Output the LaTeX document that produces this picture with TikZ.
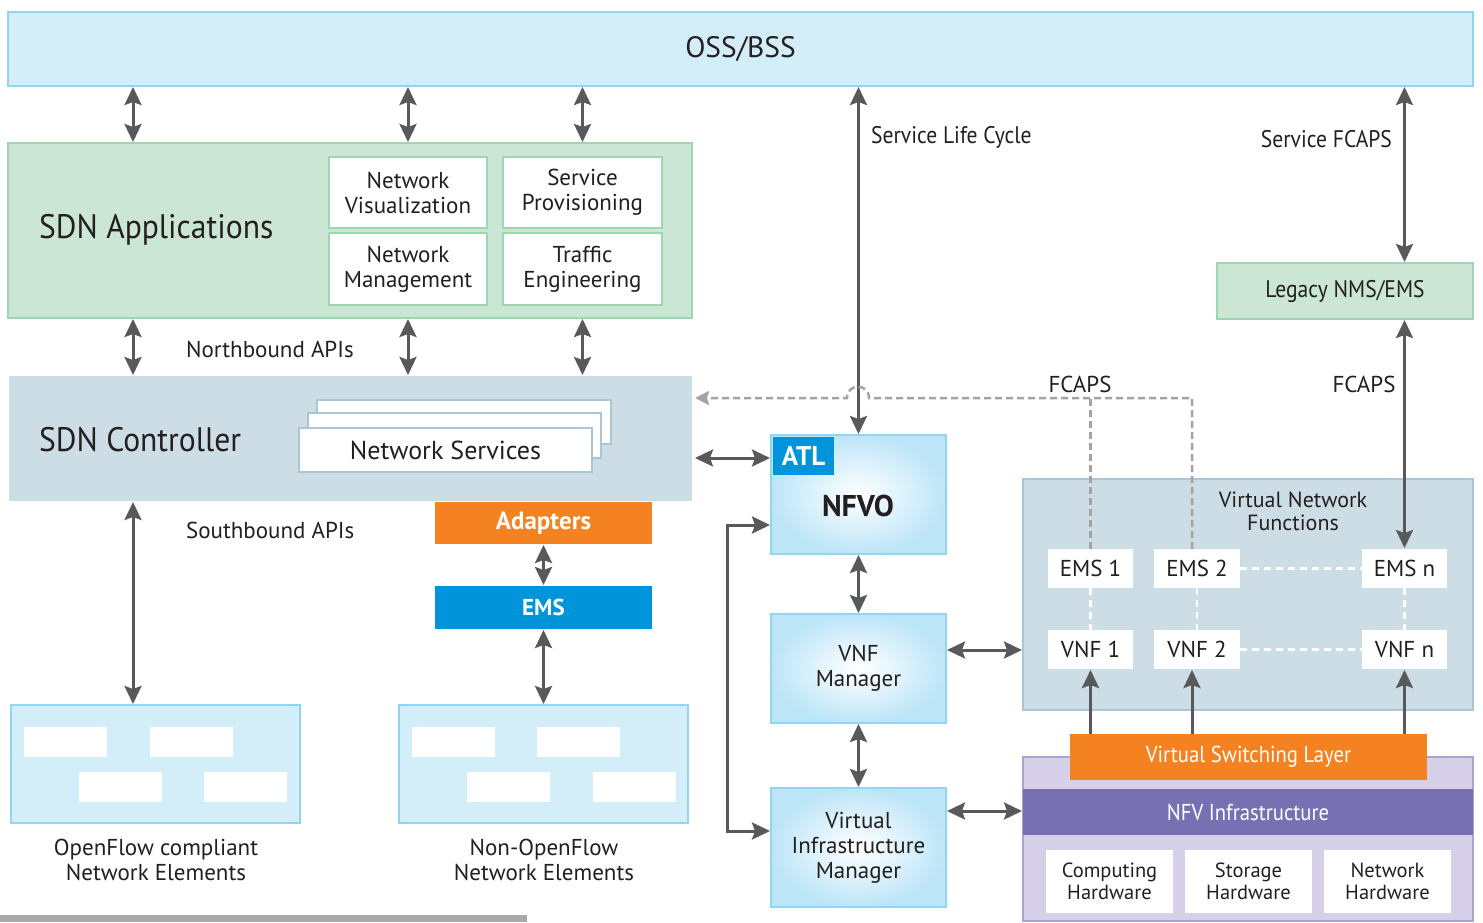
\documentclass[tikz,border=0pt]{standalone}
\usepackage{fontspec}
\setmainfont{PT Sans}
\newfontfamily\narrowfont[FakeStretch=0.9]{PT Sans}
\newfontfamily\bignarrowfont[FakeStretch=0.93]{PT Sans}
\usetikzlibrary{arrows.meta}

\definecolor{ossfill}{HTML}{D4EEF9}
\definecolor{ossline}{HTML}{92D5F2}
\definecolor{appfill}{HTML}{CCE6D5}
\definecolor{appline}{HTML}{9FD6B2}
\definecolor{ctrlfill}{HTML}{CCDDE5}
\definecolor{vnfline}{HTML}{A9C6D6}
\definecolor{adaptorange}{HTML}{F58220}
\definecolor{emsblue}{HTML}{0095DA}
\definecolor{nfvblue}{HTML}{BDE5F8}
\definecolor{lavfill}{HTML}{D6D1E9}
\definecolor{lavline}{HTML}{ABA3D2}
\definecolor{nfvipurple}{HTML}{7770B3}
\definecolor{arrgray}{HTML}{58595B}
\definecolor{dashgray}{HTML}{A3A3A3}
\definecolor{inkblack}{HTML}{231F20}
\definecolor{bargray}{HTML}{A7A9AC}

\begin{document}
\begin{tikzpicture}[x=1pt, y=-1pt, line width=1.5pt, text=inkblack,
  font=\fontsize{23}{25}\selectfont,
  >={Stealth[length=18pt,width=17pt,inset=3pt]},
  box/.style={draw, inner sep=0pt, outer sep=0pt, anchor=north west, align=center},
  nfvbox/.style={box, draw=ossline, inner color=white, outer color=nfvblue},
  wbox/.style={box, draw=none, fill=white},
  arr/.style={draw=arrgray, line width=3pt, <->, shorten <=1pt, shorten >=1pt},
  arrup/.style={draw=arrgray, line width=3pt, ->, shorten >=1pt},
  fcapsdash/.style={draw=dashgray, line width=2.5pt, dash pattern=on 7pt off 4pt},
  whitedash/.style={draw=white, line width=2.5pt, dash pattern=on 7pt off 5pt},
  bigtxt/.style={font=\bignarrowfont\fontsize{34}{38}\selectfont},
  narrowtxt/.style={font=\narrowfont\fontsize{24}{26}\selectfont},
  bandtxt/.style={font=\narrowfont\fontsize{23}{26}\selectfont}]

\useasboundingbox (0,0) rectangle (1483,922);

\node[box, draw=ossline, fill=ossfill, minimum width=1465, minimum height=74,
  font=\fontsize{29.5}{33}\selectfont] (oss) at (8,12) {OSS/BSS};

% SDN side
\node[box, draw=appline, fill=appfill, minimum width=684, minimum height=175] (sdnapp) at (8,143) {};
\node[bigtxt, anchor=west] (sdnapptxt) at (35,230) {SDN Applications};
\node[box, draw=appline, fill=white, minimum width=158, minimum height=71] (netvis) at (329,157) {Network\\Visualization};
\node[box, draw=appline, fill=white, minimum width=159, minimum height=71] (svcprov) at (503,157) {Service\\Provisioning};
\node[box, draw=appline, fill=white, minimum width=158, minimum height=72] (netman) at (329,233) {Network\\Management};
\node[box, draw=appline, fill=white, minimum width=159, minimum height=72] (traffic) at (503,233) {Traffic\\Engineering};

\node[box, draw=none, fill=ctrlfill, minimum width=683, minimum height=125] (ctrl) at (9,376) {};
\node[bigtxt, anchor=west] (ctrltxt) at (35,440) {SDN Controller};
\node[box, draw=vnfline, fill=white, minimum width=294, minimum height=44] (svcback) at (317,400) {};
\node[box, draw=vnfline, fill=white, minimum width=293, minimum height=45] (svcmid) at (308,413) {};
\node[box, draw=vnfline, fill=white, minimum width=293, minimum height=44,
  font=\fontsize{26}{29}\selectfont] (netsvc) at (299,428) {Network Services};

\coordinate (colA) at (133,0);
\draw[arr] (oss.south -| colA) -- (sdnapp.north -| colA);
\draw[arr] (oss.south -| netvis) -- (sdnapp.north -| netvis);
\draw[arr] (oss.south -| svcprov) -- (sdnapp.north -| svcprov);
\draw[arr] (sdnapp.south -| colA) -- (ctrl.north -| colA);
\draw[arr] (sdnapp.south -| netvis) -- (ctrl.north -| netvis);
\draw[arr] (sdnapp.south -| svcprov) -- (ctrl.north -| svcprov);
\node[anchor=west] (nbapi) at (182,349) {Northbound APIs};
\node[anchor=west] (sbapi) at (182,530) {Southbound APIs};

\node[box, draw=none, fill=adaptorange, text=white, minimum width=217, minimum height=42,
  font=\bfseries\fontsize{25}{28}\selectfont] (adapt) at (435,502) {Adapters};
\node[box, draw=none, fill=emsblue, text=white, minimum width=217, minimum height=43,
  font=\bfseries\fontsize{23}{26}\selectfont] (emsbox) at (435,586) {EMS};

\node[box, draw=ossline, fill=ossfill, minimum width=289, minimum height=118] (ofne) at (11,705) {};
\node[box, draw=ossline, fill=ossfill, minimum width=289, minimum height=118] (nonof) at (399,705) {};
\fill[white] (24,727) rectangle (107,757);
\fill[white] (150,727) rectangle (233,757);
\fill[white] (79,772) rectangle (162,802);
\fill[white] (204,772) rectangle (287,802);
\fill[white] (412,727) rectangle (495,757);
\fill[white] (537,727) rectangle (620,757);
\fill[white] (467,772) rectangle (550,802);
\fill[white] (593,772) rectangle (676,802);
\node[align=center] (oftxt) at (156,860) {OpenFlow compliant\\Network Elements};
\node[align=center] (nonoftxt) at (544,860) {Non-OpenFlow\\Network Elements};

\draw[arr] (ctrl.south -| colA) -- (ofne.north -| colA);
\draw[arr] (adapt.south) -- (emsbox.north);
\draw[arr] (emsbox.south) -- (nonof.north);

% NFV side
\node[nfvbox, minimum width=175, minimum height=119] (nfvo) at (771,435) {};
\node[box, draw=none, fill=emsblue, text=white, minimum width=61, minimum height=38,
  font=\bfseries\fontsize{27}{30}\selectfont] (atl) at (773,437) {ATL};
\node[font=\bfseries\fontsize{30}{34}\selectfont] (nfvotxt) at (858,506) {NFVO};
\node[nfvbox, minimum width=175, minimum height=109] (vnfm) at (771,614) {VNF\\Manager};
\node[nfvbox, minimum width=175, minimum height=119] (vim) at (771,788) {Virtual\\Infrastructure\\Manager};

\draw[arr] (oss.south -| nfvo.north) -- (nfvo.north);
\node[narrowtxt, anchor=west] (slctxt) at (867,137) {Service Life Cycle};
\draw[arr] (nfvo.south) -- (vnfm.north);
\draw[arr] (vnfm.south) -- (vim.north);
\draw[arr] ([xshift=2pt]ctrl.east |- 0,458) -- (nfvo.west |- 0,458);
\draw[arr, shorten <=1pt] (nfvo.west |- 0,525) -- (727,525) |- (vim.west |- 0,831);

\node[box, draw=appline, fill=appfill, minimum width=256, minimum height=56,
  narrowtxt] (legacy) at (1217,263) {Legacy NMS/EMS};

\node[box, draw=vnfline, fill=ctrlfill, minimum width=450, minimum height=231] (vnfbox) at (1023,479) {};
\node[align=center, font=\fontsize{22}{23}\selectfont] (vnftxt) at (1293,511) {Virtual Network\\Functions};
\node[wbox, minimum width=85, minimum height=39] (ems1) at (1048,549) {EMS 1};
\node[wbox, minimum width=86, minimum height=39] (ems2) at (1154,549) {EMS 2};
\node[wbox, minimum width=85, minimum height=39] (emsn) at (1362,549) {EMS n};
\node[wbox, minimum width=85, minimum height=39] (vnf1) at (1048,630) {VNF 1};
\node[wbox, minimum width=86, minimum height=39] (vnf2) at (1154,630) {VNF 2};
\node[wbox, minimum width=85, minimum height=39] (vnfn) at (1362,630) {VNF n};
\draw[whitedash] (ems2.east) -- (emsn.west);
\draw[whitedash] (vnf2.east) -- (vnfn.west);
\draw[whitedash] (ems1.south) -- (vnf1.north);
\draw[whitedash] (ems2.south) -- (vnf2.north);
\draw[whitedash] (emsn.south) -- (vnfn.north);

\draw[arr] (oss.south -| emsn) -- (legacy.north -| emsn);
\node[narrowtxt, anchor=east] (sfcaps) at (1396,139) {Service FCAPS};
\draw[arr] (legacy.south -| emsn) -- (emsn.north);
\node (fcaps1) at (1080,384) {FCAPS};
\node (fcaps2) at (1364,384) {FCAPS};

% FCAPS dashed path with hop over the life cycle line
\draw[fcapsdash] (ems1.north) -- (ems1.north |- 0,398);
\draw[fcapsdash, -{Stealth[length=14pt,width=14pt,inset=2pt]}, shorten >=3pt]
  ([xshift=-5pt]ems2.north) -- ([xshift=-5pt]ems2.north |- 0,398) -- (869,398)
  .. controls (869,383) and (847,383) .. (847,398) -- (ctrl.east |- 0,398);

\node[box, draw=lavline, fill=lavfill, minimum width=450, minimum height=164] (nfvi) at (1023,757) {};
\node[box, draw=none, fill=adaptorange, text=white, minimum width=357, minimum height=46,
  bandtxt] (vsl) at (1070,734) {Virtual Switching Layer};
\node[box, draw=none, fill=nfvipurple, text=white, minimum width=450, minimum height=46,
  bandtxt] (nfviband) at (1023,789) {NFV Infrastructure};
\node[wbox, minimum width=127, minimum height=63, font=\fontsize{20.5}{22}\selectfont] (comp) at (1046,850) {Computing\\Hardware};
\node[wbox, minimum width=127, minimum height=63, font=\fontsize{20.5}{22}\selectfont] (stor) at (1185,850) {Storage\\Hardware};
\node[wbox, minimum width=127, minimum height=63, font=\fontsize{20.5}{22}\selectfont] (nethw) at (1324,850) {Network\\Hardware};

\draw[arrup] (vnf1.south |- vsl.north) -- (vnf1.south);
\draw[arrup] ([xshift=-5pt]vnf2.south |- vsl.north) -- ([xshift=-5pt]vnf2.south);
\draw[arrup] (vnfn.south |- vsl.north) -- (vnfn.south);

\draw[arr] (vnfm.east |- 0,650) -- (vnfbox.west |- 0,650);
\draw[arr] (vim.east |- 0,811) -- (nfvi.west |- 0,811);

\fill[bargray] (0,915) rectangle (527,922);
\end{tikzpicture}
\end{document}
